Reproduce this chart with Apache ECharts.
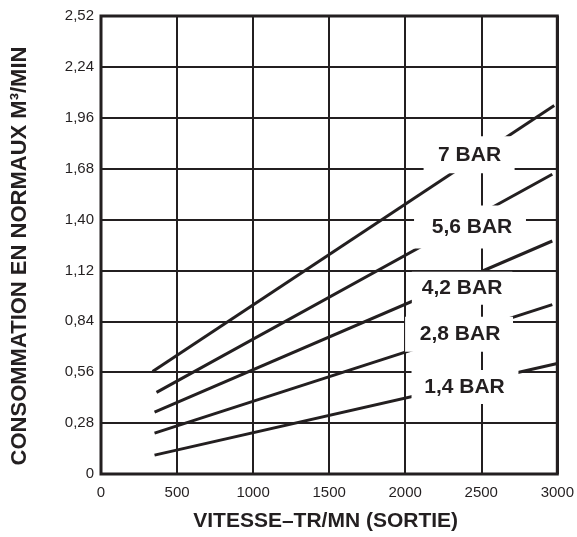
<!DOCTYPE html>
<html><head><meta charset="utf-8">
<script src="https://cdn.jsdelivr.net/npm/echarts@6/dist/echarts.min.js"></script>
<style>html,body{margin:0;padding:0;background:#fff}#c{width:577px;height:537px}</style>
</head><body><div id="c"></div>
<script>
// ---- data ----
const xTicks = [0, 500, 1000, 1500, 2000, 2500, 3000];
const yTicks = [0, 0.28, 0.56, 0.84, 1.12, 1.40, 1.68, 1.96, 2.24, 2.52];
const seriesNames = ['7 BAR', '5,6 BAR', '4,2 BAR', '2,8 BAR', '1,4 BAR'];
const bar7Speed  = [339, 2980];  const bar7Flow  = [0.564, 2.027];
const bar56Speed = [365, 2967];  const bar56Flow = [0.449, 1.649];
const bar42Speed = [352, 2967];  const bar42Flow = [0.340, 1.282];
const bar28Speed = [352, 2967];  const bar28Flow = [0.225, 0.932];
const bar14Speed = [352, 3000];  const bar14Flow = [0.104, 0.608];
const labelSpeed = [2420, 2426, 2374, 2354, 2393];
const labelFlow  = [1.756, 1.359, 1.022, 0.769, 0.479];

const INK = '#231f20';
const FONT = '"Liberation Sans", Arial, Helvetica, sans-serif';
const speeds = [bar7Speed, bar56Speed, bar42Speed, bar28Speed, bar14Speed];
const flows  = [bar7Flow, bar56Flow, bar42Flow, bar28Flow, bar14Flow];
// [top, right, bottom, left] white box padding per label
const pads = [[10,13.5,6,14.5],[21,13.7,1,17.7],[7,10,5,10],[8,12.7,6,14.7],[10,13.7,3,12.7]];

const lineSeries = seriesNames.map((n, i) => ({
  name: n, type: 'line', symbol: 'none', z: 3, silent: true,
  lineStyle: {color: INK, width: 3},
  data: speeds[i].map((s, j) => [s, flows[i][j]])
}));

const labelSeries = {
  type: 'scatter', z: 10, silent: true, symbolSize: 0,
  itemStyle: {color: '#fff', opacity: 1},
  data: seriesNames.map((n, i) => ({
    name: n, value: [labelSpeed[i], labelFlow[i]],
    label: {padding: pads[i]}
  })),
  label: {
    show: true, position: 'inside', formatter: p => p.name, opacity: 1,
    color: INK, fontFamily: FONT, fontWeight: 'bold', fontSize: 21, lineHeight: 21,
    backgroundColor: '#fff'
  }
};

const chart = echarts.init(document.getElementById('c'), null, {renderer: 'canvas'});
chart.setOption({
  animation: false,
  backgroundColor: '#fff',
  grid: {left: 101, right: 16, top: 16, bottom: 61, show: true, borderColor: INK, borderWidth: 3, backgroundColor: 'transparent'},
  xAxis: {
    type: 'value', min: xTicks[0], max: xTicks[xTicks.length-1], interval: xTicks[1]-xTicks[0],
    name: 'VITESSE–TR/MN (SORTIE)', nameLocation: 'middle', nameGap: 37,
    nameTextStyle: {color: INK, fontFamily: FONT, fontWeight: 'bold', fontSize: 21, padding: [0, 7, 0, 0]},
    axisLine: {show: false}, axisTick: {show: false},
    axisLabel: {color: INK, fontFamily: FONT, fontSize: 15, margin: 11, formatter: v => String(v)},
    splitLine: {show: true, lineStyle: {color: INK, width: 2}}
  },
  yAxis: {
    type: 'value', min: yTicks[0], max: yTicks[yTicks.length-1], interval: 0.28,
    name: 'CONSOMMATION EN NORMAUX M³/MIN', nameLocation: 'middle', nameGap: 70, nameRotate: 90,
    nameTextStyle: {color: INK, fontFamily: FONT, fontWeight: 'bold', fontSize: 22, padding: [0, 22, 0, 0]},
    axisLine: {show: false}, axisTick: {show: false},
    axisLabel: {color: INK, fontFamily: FONT, fontSize: 15, margin: 7,
      formatter: v => v === 0 ? '0' : v.toFixed(2).replace('.', ',')},
    splitLine: {show: true, lineStyle: {color: INK, width: 2}}
  },
  series: [...lineSeries, labelSeries]
});
</script></body></html>
